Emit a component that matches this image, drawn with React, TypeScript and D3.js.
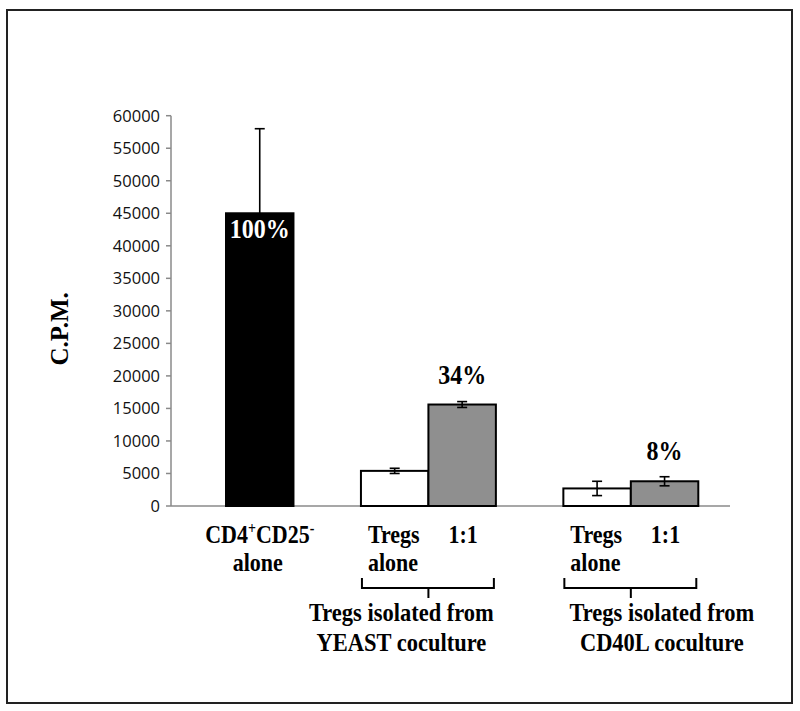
import React from "react";
import * as d3 from "d3";

// ---- data ----
const slots = ["cd4", "gapA", "yeastAlone", "yeast11", "gapB", "cd40Alone", "cd4011"];
const barKeys = ["cd4", "yeastAlone", "yeast11", "cd40Alone", "cd4011"];
const barValues = [45000, 5400, 15600, 2700, 3800];
const barErrors = [13000, 400, 450, 1100, 700];
const errorUpOnly = [true, false, false, false, false];
const barFills = ["#000000", "#ffffff", "#8f8f8f", "#ffffff", "#8f8f8f"];
const percentLabels = ["100%", "", "34%", "", "8%"];
const yTicks = [0, 5000, 10000, 15000, 20000, 25000, 30000, 35000, 40000, 45000, 50000, 55000, 60000];
const groups = [
  { alone: "yeastAlone", mix: "yeast11", line1: "Tregs isolated from", line2: "YEAST coculture", shift: -27 },
  { alone: "cd40Alone", mix: "cd4011", line1: "Tregs isolated from", line2: "CD40L coculture", shift: 31 },
];

const W = 800;
const H = 711;
const serif = "'Liberation Serif', 'Times New Roman', serif";
const sans = "'Open Sans', 'Noto Sans', sans-serif";

export default function App() {
  const y = d3.scaleLinear().domain([0, 60000]).range([506, 115.7]);
  const x = d3.scaleBand().domain(slots).range([226, 698.3]).padding(0);
  const bw = x.bandwidth();
  const axisLeft = 171;
  const axisRight = 730;
  const axisColor = "#8a8a8a";
  const tall = (cx: number, cy: number) => `translate(${cx},${cy}) scale(1,1.12) translate(${-cx},${-cy})`;

  return (
    <svg width={W} height={H} style={{ position: "absolute", left: 0, top: 0, background: "#fff" }}>
      <rect x={7} y={10} width={785} height={693} fill="#fff" stroke="#222" strokeWidth={2} />

      {/* y axis */}
      <line x1={axisLeft} x2={axisLeft} y1={y(60000)} y2={y(0)} stroke={axisColor} strokeWidth={1.5} />
      {yTicks.map((t) => (
        <g key={t}>
          <line x1={axisLeft - 5} x2={axisLeft} y1={y(t)} y2={y(t)} stroke={axisColor} strokeWidth={1.5} />
          <text x={160} y={y(t)} dy="0.36em" textAnchor="end" fontFamily={sans} fontSize={16.5} fill="#111">
            {t}
          </text>
        </g>
      ))}
      <text
        transform={`translate(68, ${(y(0) + y(60000)) / 2 + 18}) rotate(-90)`}
        textAnchor="middle"
        fontFamily={serif}
        fontWeight="bold"
        fontSize={25}
        fill="#000"
      >
        C.P.M.
      </text>

      {/* x axis */}
      <line x1={axisLeft} x2={axisRight} y1={y(0)} y2={y(0)} stroke={axisColor} strokeWidth={1.5} />

      {/* bars */}
      {barKeys.map((k, i) => {
        const x0 = x(k)!;
        return (
          <rect
            key={k}
            x={x0}
            y={y(barValues[i])}
            width={bw}
            height={y(0) - y(barValues[i])}
            fill={barFills[i]}
            stroke="#000"
            strokeWidth={2}
          />
        );
      })}

      {/* error bars */}
      {barKeys.map((k, i) => {
        const cx = x(k)! + bw / 2;
        const top = y(barValues[i] + barErrors[i]);
        const bot = errorUpOnly[i] ? y(barValues[i]) : y(barValues[i] - barErrors[i]);
        return (
          <g key={"e" + k} stroke="#000" strokeWidth={1.6}>
            <line x1={cx} x2={cx} y1={top} y2={bot} />
            <line x1={cx - 5} x2={cx + 5} y1={top} y2={top} />
            {!errorUpOnly[i] && <line x1={cx - 5} x2={cx + 5} y1={bot} y2={bot} />}
          </g>
        );
      })}

      {/* percent labels */}
      {barKeys.map((k, i) => {
        if (!percentLabels[i]) return null;
        const cx = x(k)! + bw / 2;
        const inside = i === 0;
        const ty = inside ? y(barValues[i]) + 25 : y(barValues[i]) - 21;
        return (
          <text
            key={"p" + k}
            x={cx}
            y={ty}
            transform={tall(cx, ty)}
            textAnchor="middle"
            fontFamily={serif}
            fontWeight="bold"
            fontSize={24}
            fill={inside ? "#fff" : "#000"}
          >
            {percentLabels[i]}
          </text>
        );
      })}

      {/* category labels */}
      <text
        x={x("cd4")! + bw / 2}
        y={543}
        transform={tall(x("cd4")! + bw / 2, 543)}
        textAnchor="middle"
        fontFamily={serif}
        fontWeight="bold"
        fontSize={22}
      >
        CD4
        <tspan fontSize={14} dy={-8}>+</tspan>
        <tspan dy={8}>CD25</tspan>
        <tspan fontSize={14} dy={-8}>-</tspan>
      </text>
      <text
        x={x("cd4")! + bw / 2 - 2}
        y={571}
        transform={tall(x("cd4")! + bw / 2, 571)}
        textAnchor="middle"
        fontFamily={serif}
        fontWeight="bold"
        fontSize={22}
      >
        alone
      </text>

      {groups.map((g) => {
        const l = x(g.alone)!;
        const m = x(g.mix)!;
        const r = m + bw;
        const c = (l + r) / 2;
        return (
          <g key={g.alone}>
            <text x={l + 7} y={543} transform={tall(l, 543)} fontFamily={serif} fontWeight="bold" fontSize={22}>
              Tregs
            </text>
            <text x={m + 20} y={543} transform={tall(m, 543)} fontFamily={serif} fontWeight="bold" fontSize={22}>
              1:1
            </text>
            <text x={l + 7} y={571} transform={tall(l, 571)} fontFamily={serif} fontWeight="bold" fontSize={22}>
              alone
            </text>
            <path
              d={`M${l + 1},578 V588 H${r - 2} V578 M${c},588 V598`}
              fill="none"
              stroke="#000"
              strokeWidth={2}
            />
            <text
              x={c + g.shift}
              y={621}
              transform={tall(c, 621)}
              textAnchor="middle"
              fontFamily={serif}
              fontWeight="bold"
              fontSize={22.5}
            >
              {g.line1}
            </text>
            <text
              x={c + g.shift}
              y={651}
              transform={tall(c, 651)}
              textAnchor="middle"
              fontFamily={serif}
              fontWeight="bold"
              fontSize={22.5}
            >
              {g.line2}
            </text>
          </g>
        );
      })}
    </svg>
  );
}
